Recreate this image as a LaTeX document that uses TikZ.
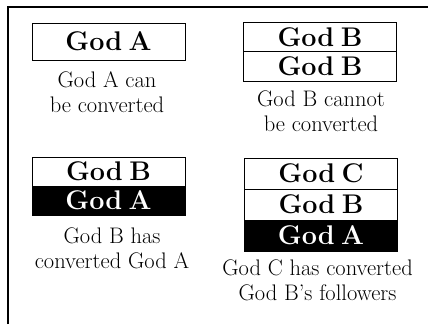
\documentclass[tikz,border=0pt]{standalone}
\newcommand\godlabelfont{\fontsize{27}{27}\selectfont\bfseries}
\newcommand\tightspace{\spaceskip=0.24em\relax}
\begin{document}
\begin{tikzpicture}[x=1pt,y=-1pt,
  godrow/.style={draw=black, line width=0.8pt, minimum width=153pt, inner sep=0pt,
    font=\godlabelfont, execute at begin node=\tightspace},
  converted/.style={godrow, fill=black, text=white},
  caption/.style={align=center, inner sep=0pt, anchor=north,
    font=\fontsize{22.5}{25}\selectfont}]
\useasboundingbox (0,0) rectangle (428,324);
\draw[line width=1.2pt] (8,324) -- (8,7) -- (428,7);
% panel 1
\node[godrow, minimum height=37pt] (a1) at (108.5,41.5) {God A};
\node[caption] (t1) at (107,71.5) {God A can\\be converted};
% panel 2
\node[godrow, minimum height=29.5pt] (b1) at (320,37) {God B};
\node[godrow, minimum height=29.5pt] (b2) at (320,66.5) {God B};
\node[caption] (t2) at (321,91) {God B cannot\\be converted};
% panel 3
\node[godrow, minimum height=29pt] (c1) at (108.5,171.5) {God B};
\node[converted, minimum height=29pt] (c2) at (108.5,200.5) {God A};
\node[caption] (t3) at (112,228) {God B has\\converted God A};
% panel 4
\node[godrow, minimum height=31pt] (d1) at (321,173.5) {God C};
\node[godrow, minimum height=31pt] (d2) at (321,204.5) {God B};
\node[converted, minimum height=31pt] (d3) at (321,235.5) {God A};
\node[caption] (t4) at (317.5,260) {God C has converted\\God B’s followers};
\end{tikzpicture}
\end{document}
